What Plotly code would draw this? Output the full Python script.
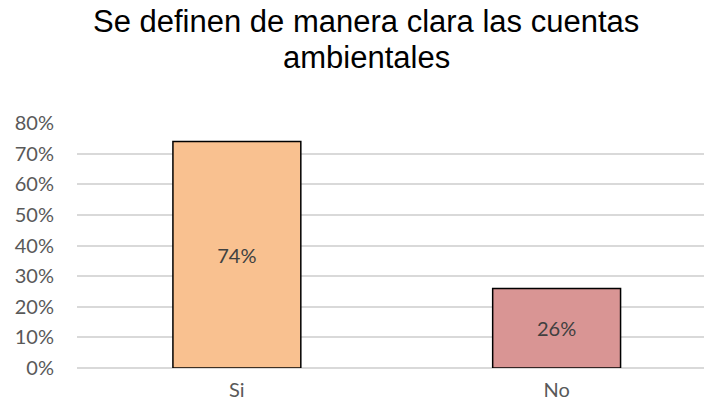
import plotly.graph_objects as go

categories = ["Si", "No"]
values = [0.74, 0.26]
labels = ["74%", "26%"]
bar_colors = ["#F9C190", "#D99594"]
tick_vals = [0, 0.1, 0.2, 0.3, 0.4, 0.5, 0.6, 0.7, 0.8]
tick_text = ["0%", "10%", "20%", "30%", "40%", "50%", "60%", "70%", "80%"]
title_lines = ["Se definen de manera clara las cuentas", "ambientales"]

W, H = 704, 413
L, R, T, B = 76.5, 0, 123, 45
plot_w = W - L - R
plot_h = H - T - B
x_range = [-0.5, -0.5 + plot_w / 320.0]


def py_to_paper(py):
    return (H - B - py) / plot_h


def px_to_paper(px):
    return (px - L) / plot_w


fig = go.Figure(
    go.Bar(
        x=categories,
        y=values,
        text=labels,
        textposition="inside",
        insidetextanchor="middle",
        textfont=dict(family="Lato, Open Sans, sans-serif", size=20, color="#404040"),
        marker=dict(color=bar_colors, line=dict(color="#000000", width=1.5)),
        width=0.4,
        hoverinfo="skip",
    )
)

title_font = dict(family="Liberation Sans, Arial, sans-serif", size=31, color="#000000")
for line, cy in zip(title_lines, [22, 57]):
    fig.add_annotation(
        text=line,
        xref="paper",
        yref="paper",
        x=px_to_paper(366),
        y=py_to_paper(cy),
        xanchor="center",
        yanchor="middle",
        showarrow=False,
        font=title_font,
    )

fig.update_layout(
    width=W,
    height=H,
    margin=dict(l=L, r=R, t=T, b=B, pad=0),
    paper_bgcolor="white",
    plot_bgcolor="white",
    showlegend=False,
    xaxis=dict(
        range=x_range,
        showgrid=False,
        zeroline=False,
        showline=False,
        ticks="",
        tickfont=dict(family="Lato, Open Sans, sans-serif", size=20, color="#595959"),
        ticklabelstandoff=8,
        fixedrange=True,
    ),
    yaxis=dict(
        range=[0, 0.8],
        tickvals=tick_vals,
        ticktext=tick_text,
        showgrid=True,
        gridcolor="#D9D9D9",
        gridwidth=1.5,
        zeroline=True,
        zerolinecolor="#D9D9D9",
        zerolinewidth=1.5,
        showline=False,
        ticks="",
        tickfont=dict(family="Lato, Open Sans, sans-serif", size=20, color="#595959"),
        ticklabelstandoff=22,
        fixedrange=True,
    ),
)

fig.write_html(
    "out.html",
    config={"displayModeBar": False},
    post_script="document.body.style.margin='0px';document.body.style.overflow='hidden';",
)
